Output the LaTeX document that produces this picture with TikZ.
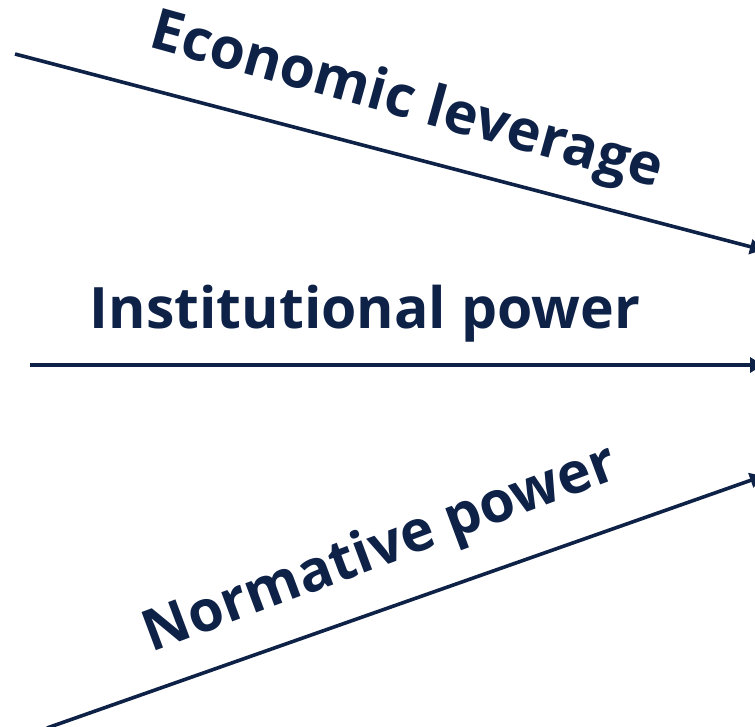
\documentclass[tikz,border=0pt]{standalone}
\usepackage{fontspec}
\setmainfont{Open Sans}
\usetikzlibrary{arrows.meta}
\definecolor{navy}{RGB}{14,33,71}
\tikzset{
  lever/.style={draw=navy,line width=3.6*0.02cm,-{Triangle[length=0.26cm,width=0.3cm]}},
  lbl/.style={text=navy,font=\fontsize{32.5}{38}\selectfont\bfseries,inner sep=0pt}
}
\begin{document}
\begin{tikzpicture}[x=0.02cm,y=-0.02cm]
\useasboundingbox (0,0) rectangle (755,727);
% ends of the three lines
\coordinate (econA) at (15,54);
\coordinate (econB) at (763,250);
\coordinate (instA) at (30,365);
\coordinate (instB) at (763,365);
\coordinate (normA) at (47,728);
\coordinate (normB) at (763,476);
\draw [lever] (econA) -- (econB);
\draw [lever] (instA) -- (instB);
\draw [lever] (normA) -- (normB);
% labels
\node [lbl,rotate=-15.5] (econ) at (406,103) {Economic leverage};
\node [lbl] (inst) at (365,314) {Institutional power};
\node [lbl,rotate=20.5] (norm) at (381,551) {Normative power};
\end{tikzpicture}
\end{document}
